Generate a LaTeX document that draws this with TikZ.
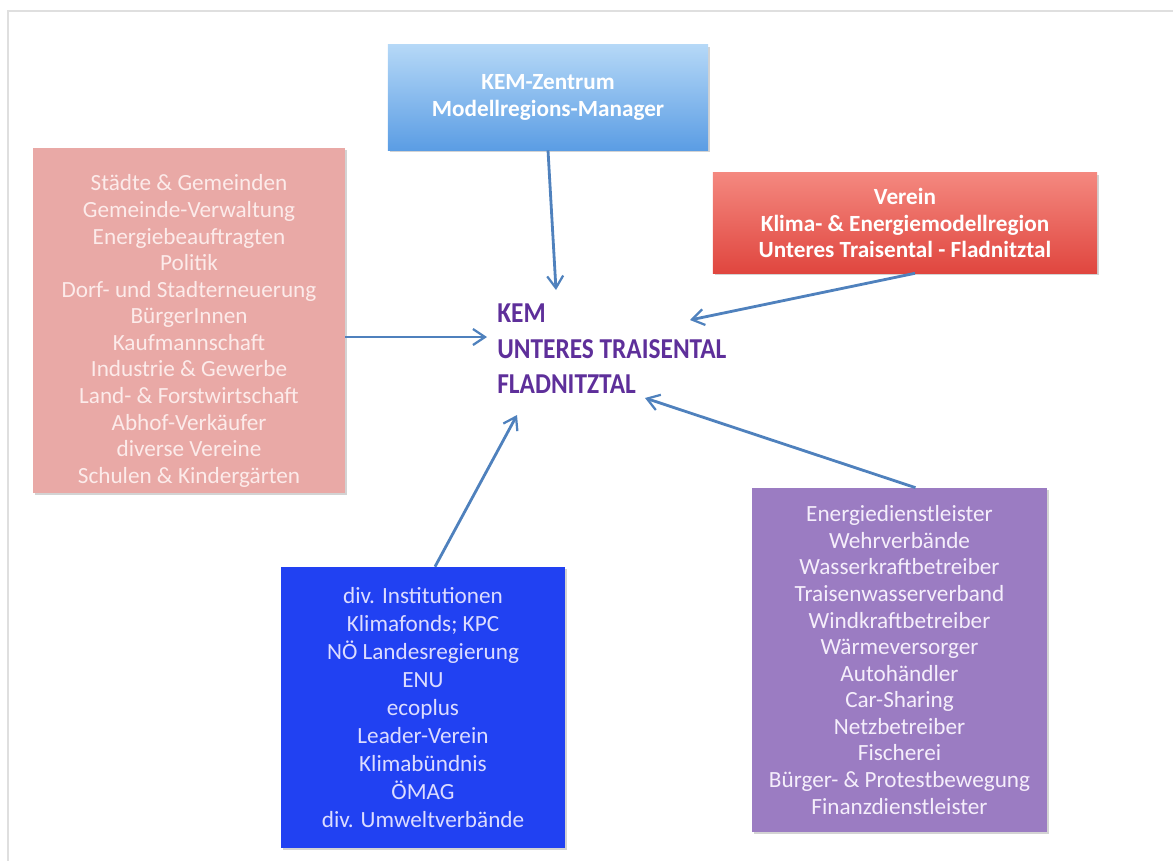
\documentclass[tikz,border=0pt]{standalone}
\usepackage{fontspec}
\setmainfont{Carlito}
\usetikzlibrary{arrows.meta, positioning, shadows}
\definecolor{zentrumtop}{HTML}{B5D8F7}
\definecolor{zentrumbot}{HTML}{5B9DE4}
\definecolor{gemeindefill}{HTML}{E9A9A6}
\definecolor{gemeindetext}{HTML}{FCEBEA}
\definecolor{vereintop}{HTML}{F4887F}
\definecolor{vereinbot}{HTML}{E0463F}
\definecolor{institutfill}{HTML}{2141F2}
\definecolor{instituttext}{HTML}{DCDCFF}
\definecolor{partnerfill}{HTML}{9B7CC2}
\definecolor{partnertext}{HTML}{F5EEFB}
\definecolor{kemlila}{HTML}{5E2F9A}
\definecolor{pfeil}{HTML}{4F81BD}
\tikzstyle{box} = [rectangle, align=center, inner sep=0pt, drop shadow={opacity=0.35, shadow xshift=1.2pt, shadow yshift=-1.2pt}]
\tikzstyle{listtext} = [font=\fontsize{16.5}{18.9}\selectfont]
\tikzstyle{headtext} = [font=\fontsize{16.5}{18.9}\selectfont\bfseries, text=white]
\tikzstyle{arr} = [-{Straight Barb[length=3mm, width=4mm, line width=1.6pt]}, line width=2pt, draw=pfeil]

\begin{document}
\begin{tikzpicture}[x=0.025cm, y=-0.025cm]
    \useasboundingbox (0,0) rectangle (1173,861);
    % frame
    \draw[gray!25, line width=1.2pt] (1173,11) -- (8,11) -- (8,861);

    \node[box, headtext, top color=zentrumtop, bottom color=zentrumbot,
          minimum width=8cm, minimum height=2.625cm] (zentrum) at (548,97.5)
        {\raisebox{-0.08cm}{\begin{tabular}{c}KEM-Zentrum\\Modellregions-Manager\end{tabular}}};
    \node[box, fill=gemeindefill, minimum width=7.8cm, minimum height=8.625cm] (gemeinden) at (189,320.5) {};
    \node[listtext, align=center, text=gemeindetext, inner sep=0pt] (gemeindenliste) at (189,331)
        {Städte \& Gemeinden\\Gemeinde-Verwaltung\\Energiebeauftragten\\Politik\\
         Dorf- und Stadterneuerung\\BürgerInnen\\Kaufmannschaft\\Industrie \& Gewerbe\\
         Land- \& Forstwirtschaft\\Abhof-Verkäufer\\diverse Vereine\\Schulen \& Kindergärten};
    \node[box, headtext, top color=vereintop, bottom color=vereinbot,
          minimum width=9.6cm, minimum height=2.5cm] (verein) at (905,223)
        {Verein\\Klima- \& Energiemodellregion\\Unteres Traisental - Fladnitztal};
    \node[box, listtext, fill=institutfill, text=instituttext,
          font=\fontsize{16.5}{19.9}\selectfont,
          minimum width=7.1cm, minimum height=7.025cm] (institut) at (423,707.5)
        {div. Institutionen\\Klimafonds; KPC\\NÖ Landesregierung\\ENU\\ecoplus\\
         Leader-Verein\\Klimabündnis\\ÖMAG\\div. Umweltverbände};
    \node[box, listtext, fill=partnerfill, text=partnertext,
          minimum width=7.375cm, minimum height=8.6cm] (partner) at (899.5,660)
        {Energiedienstleister\\Wehrverbände\\Wasserkraftbetreiber\\Traisenwasserverband\\
         Windkraftbetreiber\\Wärmeversorger\\Autohändler\\Car-Sharing\\Netzbetreiber\\
         Fischerei\\Bürger- \& Protestbewegung\\Finanzdienstleister};

    \node[anchor=west, text=kemlila, inner sep=0pt,
          font=\fontsize{20.5}{24.9}\selectfont\bfseries] (kem) at (497,351)
        {\scalebox{0.88}[1]{\begin{tabular}{@{}l@{}}KEM\\UNTERES TRAISENTAL\\FLADNITZTAL\end{tabular}}};

    \coordinate (tipTop) at (556,290);
    \coordinate (tipLeft) at (487,337);
    \coordinate (tipRight) at (690,320);
    \coordinate (tipBelow) at (517,415);
    \coordinate (tipLow) at (645,398);

    \draw[arr] (zentrum.south) -- (tipTop);
    \draw[arr] (gemeinden.east |- tipLeft) -- (tipLeft);
    \draw[arr] ([xshift=0.25cm]verein.south) -- (tipRight);
    \draw[arr] ([xshift=0.3cm]institut.north) -- (tipBelow);
    \draw[arr] ([xshift=0.4cm]partner.north) -- (tipLow);
\end{tikzpicture}
\end{document}
